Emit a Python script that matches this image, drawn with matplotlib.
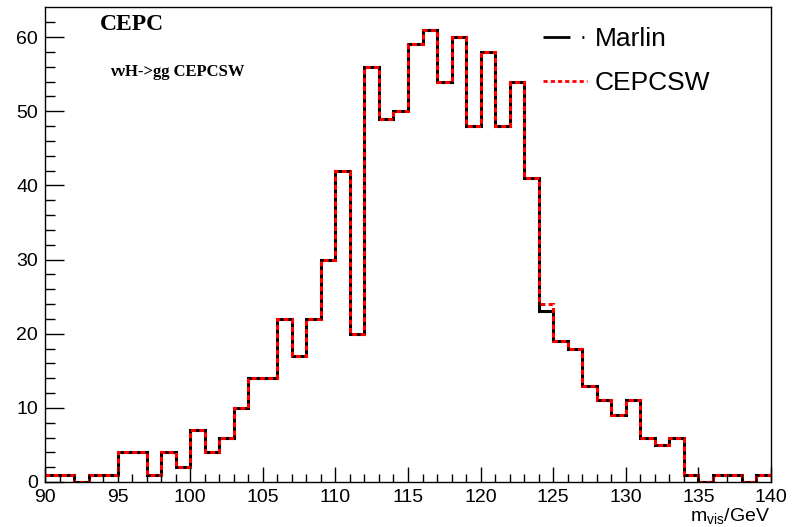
import numpy as np
import matplotlib
matplotlib.use("Agg")
import matplotlib.pyplot as plt
from matplotlib.lines import Line2D

plt.rcParams['font.family'] = ['Liberation Sans', 'DejaVu Sans']
plt.rcParams['mathtext.fontset'] = 'custom'
plt.rcParams['mathtext.rm'] = 'Liberation Sans'
plt.rcParams['mathtext.default'] = 'regular'

# histogram bins, 90 - 140 GeV, 1 GeV wide
edges = np.arange(90, 141, 1)
marlin = [1, 1, 0, 1, 1, 4, 4, 1, 4, 2,
          7, 4, 6, 10, 14, 14, 22, 17, 22, 30,
          42, 20, 56, 49, 50, 59, 61, 54, 60, 48,
          58, 48, 54, 41, 23, 19, 18, 13, 11, 9,
          11, 6, 5, 6, 1, 0, 1, 1, 0, 1]
cepcsw = [1, 1, 0, 1, 1, 4, 4, 1, 4, 2,
          7, 4, 6, 10, 14, 14, 22, 17, 22, 30,
          42, 20, 56, 49, 50, 59, 61, 54, 60, 48,
          58, 48, 54, 41, 24, 19, 18, 13, 11, 9,
          11, 6, 5, 6, 1, 0, 1, 1, 0, 1]
labels = ["Marlin", "CEPCSW"]

fig = plt.figure(figsize=(7.99, 5.27), dpi=100)
ax = fig.add_axes([45/799, 45/527, 726/799, 475/527])

ax.stairs(marlin, edges, color='black', linewidth=2.2, baseline=None)
ax.stairs(cepcsw, edges, color='red', linewidth=2.2, baseline=None,
          linestyle=(0, (1.6, 1.1)))

ax.set_xlim(90, 140)
ax.set_ylim(0, 64.05)
ax.set_xticks(np.arange(90, 141, 5))
ax.set_xticks(np.arange(90, 141, 1), minor=True)
ax.set_yticks(np.arange(0, 61, 10))
ax.set_yticks(np.arange(0, 64, 2), minor=True)
ax.tick_params(axis='both', which='both', direction='in', labelsize=14,
               top=False, right=False)
ax.tick_params(axis='x', which='major', length=11, width=1, pad=5)
ax.tick_params(axis='x', which='minor', length=5.5, width=1)
ax.tick_params(axis='y', which='major', length=14, width=1, pad=5)
ax.tick_params(axis='y', which='minor', length=7, width=1)
for s in ax.spines.values():
    s.set_linewidth(1)

fig.text(770/799, 0.5/527, r'm$_{vis}$/GeV', ha='right', va='bottom', fontsize=14)

ax.text(100/799, 1 - 25/527, "CEPC", transform=fig.transFigure,
        family='Liberation Serif', weight='bold', fontsize=17, va='center')
ax.text(110/799, 1 - 72/527, "\u03bd\u03bdH->gg CEPCSW", transform=fig.transFigure,
        family='Liberation Serif', weight='bold', fontsize=12, va='center')

handles = [Line2D([], [], color='black', linewidth=2, linestyle=(0, (9.7, 4.3, 0.7, 10))),
           Line2D([], [], color='red', linewidth=2, linestyle=(0, (1.5, 1.1)))]
ax.legend(handles, labels, loc='upper left', bbox_to_anchor=(543/799, 1 - 27/527),
          bbox_transform=fig.transFigure, frameon=False, fontsize=19,
          handlelength=1.65, handletextpad=0.3, labelspacing=0.75,
          borderpad=0, borderaxespad=0)

fig.savefig("out.png", dpi=100)
